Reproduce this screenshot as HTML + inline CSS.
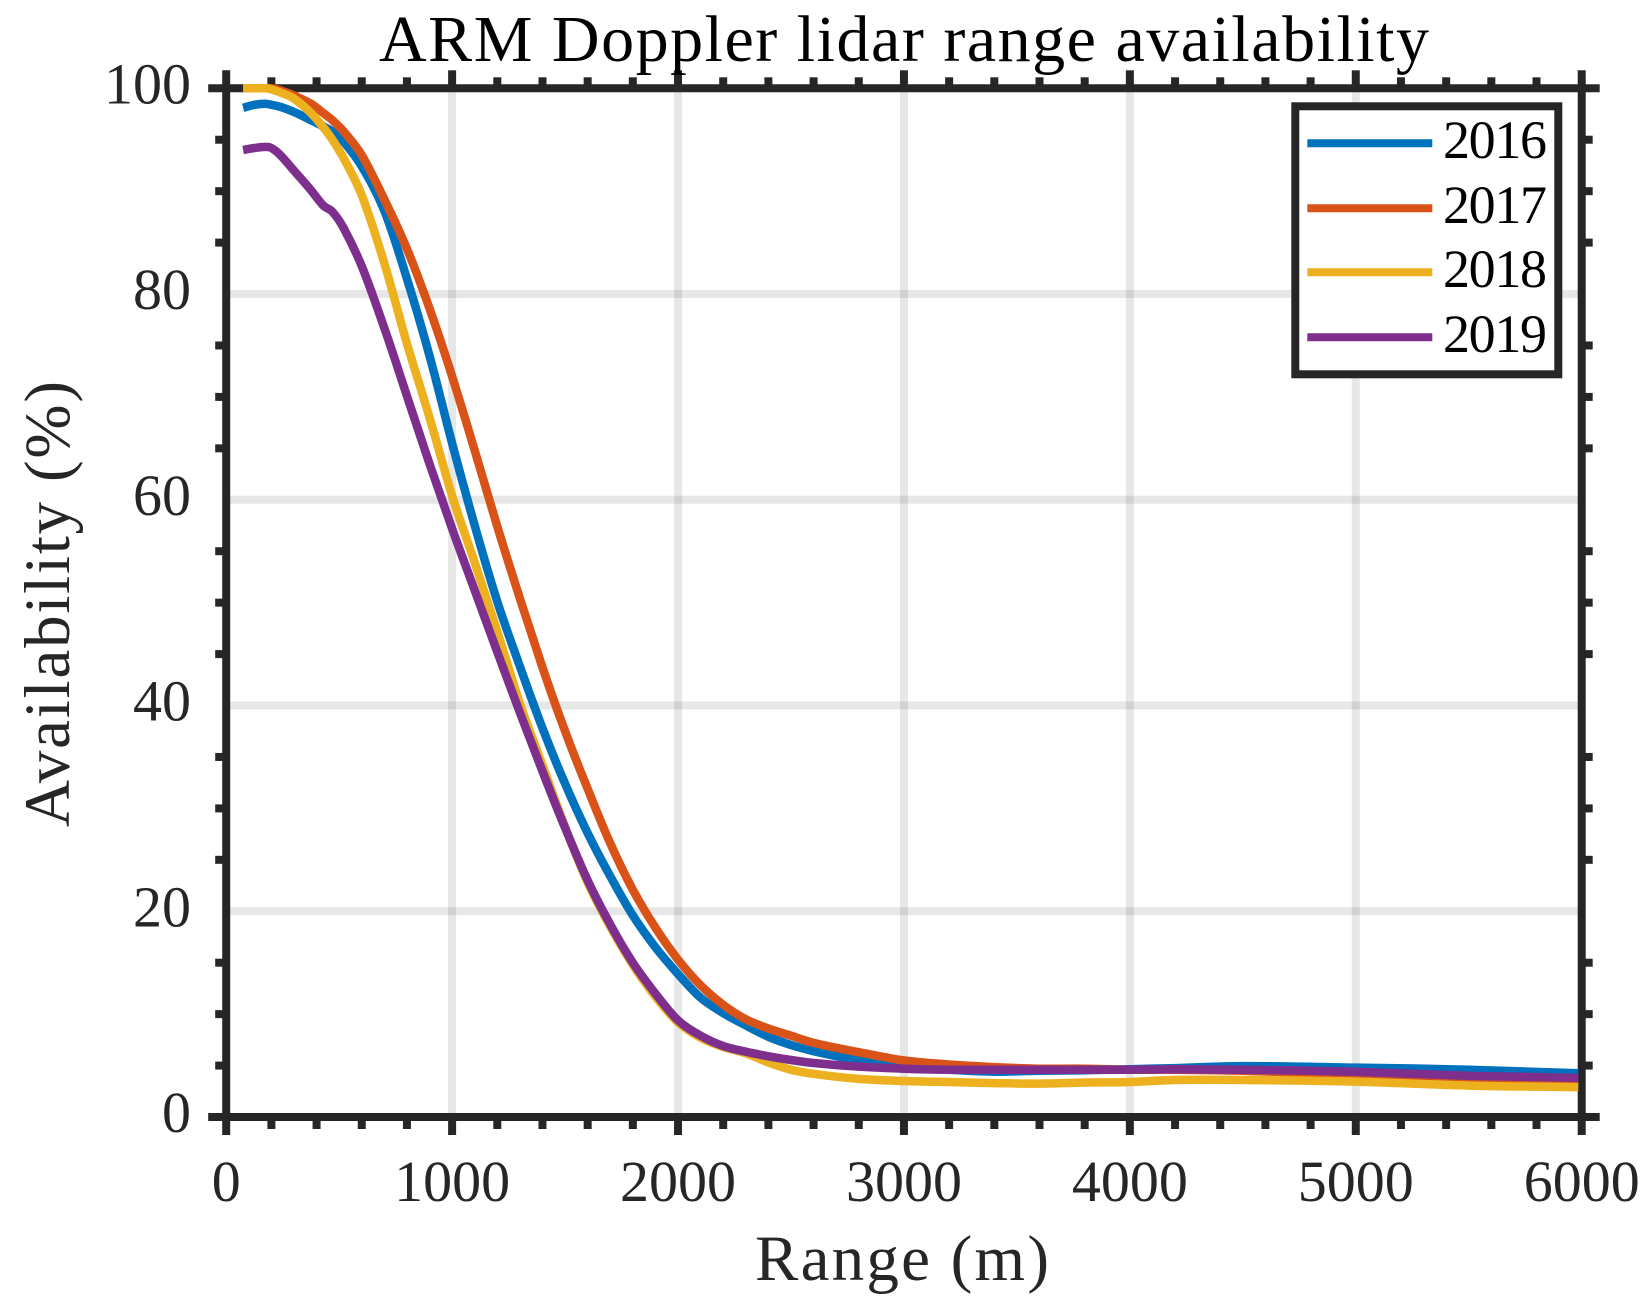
<!DOCTYPE html>
<html lang="en">
<head>
<meta charset="utf-8">
<title>ARM Doppler lidar range availability</title>
<style>
html,body{margin:0;padding:0;background:#fff;}
#chart{display:block;width:1652px;height:1316px;}
text{font-family:"Liberation Serif",serif;}
</style>
</head>
<body>
<svg id="chart" xmlns="http://www.w3.org/2000/svg" width="1652" height="1316" viewBox="0 0 1652 1316">
  <rect x="0" y="0" width="1652" height="1316" fill="#ffffff"/>
  <g id="grid"></g>
  <g id="axes"></g>
  <g id="ticklabels"></g>
  <g id="series"></g>
  <text x="904" y="61" text-anchor="middle" font-size="66" fill="#000000" textLength="1050" lengthAdjust="spacing">ARM Doppler lidar range availability</text>
  <text x="902" y="1280" text-anchor="middle" font-size="65" fill="#262626" textLength="294" lengthAdjust="spacing">Range (m)</text>
  <text transform="translate(69 604) rotate(-90)" text-anchor="middle" font-size="65" fill="#262626" textLength="446" lengthAdjust="spacing">Availability (%)</text>
  <g id="legend">
    <rect x="1295.3" y="106.3" width="263" height="268" fill="#ffffff" stroke="#262626" stroke-width="8"/>
  </g>
</svg>
<script>
var xTickLabels = [0, 1000, 2000, 3000, 4000, 5000, 6000];
var yTickLabels = [0, 20, 40, 60, 80, 100];
var xMinorStep = 200;
var yMinorStep = 5;

var years = ['2016', '2017', '2018', '2019'];
var seriesColors = ['#0072BD', '#D95319', '#EDB120', '#7E2F8E'];

var ranges = [75,125,175,200,240,300,375,430,470,520,600,700,800,900,1000,1100,1200,1300,1400,1500,1600,1700,1800,1900,2000,2100,2200,2300,2400,2500,2600,2800,3000,3200,3400,3600,3800,4000,4200,4500,5000,5500,5985];
var avail2016 = [98.1,98.4,98.5,98.4,98.2,97.7,96.9,96.3,95.8,94.8,92.4,88.1,81.5,74.0,65.5,57.5,50.1,43.8,37.8,32.4,27.6,23.4,19.6,16.5,13.9,11.6,10.1,8.9,7.8,7.0,6.4,5.5,4.9,4.6,4.4,4.5,4.55,4.65,4.75,4.95,4.8,4.6,4.25];
var avail2017 = [100,100,100,100,99.8,99.3,98.5,97.6,96.9,95.8,93.5,89.2,84.4,78.6,72.0,64.8,57.4,50.4,43.7,37.5,31.9,26.6,22.1,18.4,15.3,12.8,10.9,9.5,8.6,7.9,7.2,6.3,5.5,5.1,4.85,4.7,4.7,4.6,4.6,4.5,4.1,3.7,3.5];
var avail2018 = [100,100,100,99.9,99.6,99.0,97.6,96.2,95.0,93.2,89.6,83.0,75.2,68.0,60.4,53.9,47.2,40.2,34.2,28.2,22.8,18.5,14.8,11.7,9.2,7.7,6.8,6.2,5.3,4.6,4.2,3.7,3.5,3.4,3.3,3.25,3.35,3.4,3.6,3.6,3.44,3.05,2.9];
var avail2019 = [94.0,94.2,94.3,94.2,93.5,92.0,90.1,88.6,88.0,86.4,82.7,76.7,70.1,63.5,57.2,51.2,45.2,39.3,33.6,28.1,23.0,18.7,15.0,12.0,9.4,7.9,6.9,6.35,5.9,5.54,5.25,4.9,4.7,4.6,4.6,4.6,4.6,4.6,4.65,4.6,4.4,4.0,3.8];
var allSeries = [avail2016, avail2017, avail2018, avail2019];

var NS = 'http://www.w3.org/2000/svg';
var X0 = 226.2, X1 = 1581.7, Y0 = 1117, Y1 = 88.3;
var XMAX = 6000, YMAX = 100;
var AXIS = '#262626';

function xPos(v) { return X0 + (X1 - X0) * v / XMAX; }
function yPos(v) { return Y0 - (Y0 - Y1) * v / YMAX; }

function makeLine(parent, x1, y1, x2, y2, color, width, opacity) {
  var l = document.createElementNS(NS, 'line');
  l.setAttribute('x1', x1);
  l.setAttribute('y1', y1);
  l.setAttribute('x2', x2);
  l.setAttribute('y2', y2);
  l.setAttribute('stroke', color);
  l.setAttribute('stroke-width', width);
  if (opacity) { l.setAttribute('stroke-opacity', opacity); }
  parent.appendChild(l);
  return l;
}

function makeText(parent, x, y, str, size, anchor, color) {
  var t = document.createElementNS(NS, 'text');
  t.setAttribute('x', x);
  t.setAttribute('y', y);
  t.setAttribute('font-size', size);
  t.setAttribute('text-anchor', anchor);
  t.setAttribute('fill', color);
  t.textContent = str;
  parent.appendChild(t);
  return t;
}

function smoothPath(pts) {
  var d = 'M' + pts[0][0].toFixed(1) + ' ' + pts[0][1].toFixed(1);
  for (var i = 0; i < pts.length - 1; i++) {
    var p0 = pts[Math.max(0, i - 1)];
    var p1 = pts[i];
    var p2 = pts[i + 1];
    var p3 = pts[Math.min(pts.length - 1, i + 2)];
    var dx = p2[0] - p1[0];
    var m1 = (p2[1] - p0[1]) / (p2[0] - p0[0]);
    var m2 = (p3[1] - p1[1]) / (p3[0] - p1[0]);
    d += ' C' + (p1[0] + dx / 3).toFixed(1) + ' ' + (p1[1] + m1 * dx / 3).toFixed(1) +
         ' ' + (p2[0] - dx / 3).toFixed(1) + ' ' + (p2[1] - m2 * dx / 3).toFixed(1) +
         ' ' + p2[0].toFixed(1) + ' ' + p2[1].toFixed(1);
  }
  return d;
}

var gridG = document.getElementById('grid');
var axesG = document.getElementById('axes');
var labelG = document.getElementById('ticklabels');
var seriesG = document.getElementById('series');
var legendG = document.getElementById('legend');

xTickLabels.forEach(function (v) {
  if (v > 0 && v < XMAX) {
    var g = makeLine(gridG, xPos(v), Y1, xPos(v), Y0, AXIS, 8, 0.11);
    
    
  }
});
yTickLabels.forEach(function (v) {
  if (v > 0 && v < YMAX) {
    var g = makeLine(gridG, X0, yPos(v), X1, yPos(v), AXIS, 8, 0.11);
    
    
  }
});

var frame = [
  ['axis-left', X0, Y1 - 18, X0, Y0 + 18],
  ['axis-right', X1, Y1 - 18, X1, Y0 + 18],
  ['axis-top', X0 - 18, Y1, X1 + 18, Y1],
  ['axis-bottom', X0 - 18, Y0, X1 + 18, Y0]
];
frame.forEach(function (f) {
  var a = makeLine(axesG, f[1], f[2], f[3], f[4], AXIS, 8);
  
  
});

for (var mx = xMinorStep; mx < XMAX; mx += xMinorStep) {
  if (mx % 1000 === 0) { continue; }
  var mb = makeLine(axesG, xPos(mx), Y0, xPos(mx), Y0 + 12, AXIS, 8);
  
  
  var mt = makeLine(axesG, xPos(mx), Y1, xPos(mx), Y1 - 11, AXIS, 8);
  
  
}
for (var my = yMinorStep; my < YMAX; my += yMinorStep) {
  if (my % 20 === 0) { continue; }
  var ml = makeLine(axesG, X0, yPos(my), X0 - 11, yPos(my), AXIS, 8);
  
  
  var mr = makeLine(axesG, X1, yPos(my), X1 + 11, yPos(my), AXIS, 8);
  
  
}
xTickLabels.forEach(function (v) {
  if (v > 0 && v < XMAX) {
    var tb = makeLine(axesG, xPos(v), Y0, xPos(v), Y0 + 18, AXIS, 8);
    
    
    var tt = makeLine(axesG, xPos(v), Y1, xPos(v), Y1 - 18, AXIS, 8);
    
    
  }
  var lab = makeText(labelG, xPos(v), 1201, String(v), 58, 'middle', AXIS);
  
  
});
yTickLabels.forEach(function (v) {
  var lab = makeText(labelG, 191, yPos(v) + 15, String(v), 58, 'end', AXIS);
  
  
});

allSeries.forEach(function (vals, i) {
  var pts = vals.map(function (v, k) {
    return [xPos(ranges[k]), yPos(v)];
  });
  var p = document.createElementNS(NS, 'path');
  p.setAttribute('d', smoothPath(pts));
  p.setAttribute('fill', 'none');
  p.setAttribute('stroke', seriesColors[i]);
  p.setAttribute('stroke-width', '8.5');
  p.setAttribute('stroke-linejoin', 'round');
  
  
  seriesG.appendChild(p);
});

var legendRowY = [143.3, 208.3, 272.3, 337.3];
years.forEach(function (yr, i) {
  var sw = makeLine(legendG, 1307.3, legendRowY[i], 1432.3, legendRowY[i], seriesColors[i], 8);
  
  
  var tx = makeText(legendG, 1443, legendRowY[i] + 14.5, yr, 54, 'start', '#000000');
  tx.setAttribute('textLength', '104');
  
  
});
</script>
</body>
</html>
